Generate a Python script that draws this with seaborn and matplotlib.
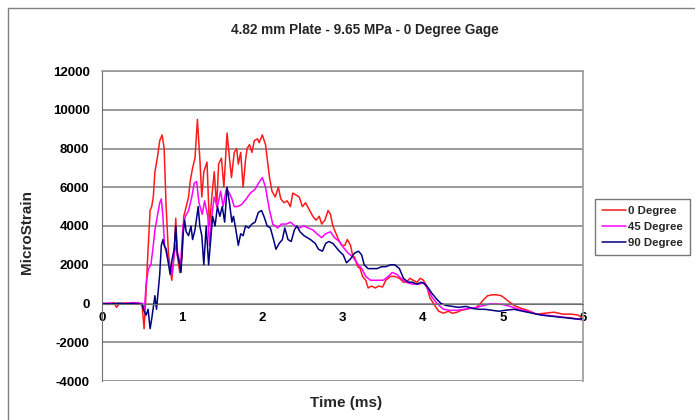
import numpy as np
import pandas as pd
import seaborn as sns
import matplotlib.pyplot as plt
from matplotlib.patches import Rectangle

# Datos (tiempo en ms, microdeformacion)
t_0 = [0, 0.08, 0.15, 0.18, 0.22, 0.3, 0.38, 0.45, 0.5, 0.525, 0.545, 0.565, 0.6, 0.62, 0.64, 0.66,
       0.69, 0.72, 0.75, 0.775, 0.8, 0.83, 0.87, 0.9, 0.92, 0.94, 0.97, 1.0, 1.02, 1.05, 1.08,
       1.1, 1.13, 1.16, 1.19, 1.22, 1.245, 1.27, 1.31, 1.34, 1.37, 1.4, 1.43, 1.455, 1.49,
       1.52, 1.56, 1.59, 1.615, 1.65, 1.68, 1.7, 1.73, 1.76, 1.79, 1.81, 1.84, 1.87, 1.9,
       1.94, 1.96, 2.0, 2.04, 2.06, 2.09, 2.12, 2.16, 2.2, 2.23, 2.27, 2.31, 2.35, 2.38,
       2.42, 2.46, 2.5, 2.54, 2.59, 2.63, 2.67, 2.71, 2.74, 2.78, 2.82, 2.85, 2.88, 2.91,
       2.95, 2.99, 3.03, 3.06, 3.1, 3.13, 3.15, 3.19, 3.22, 3.25, 3.29, 3.32, 3.36, 3.41,
       3.45, 3.5, 3.54, 3.6, 3.65, 3.71, 3.76, 3.8, 3.84, 3.88, 3.93, 3.97, 4.01, 4.05,
       4.09, 4.15, 4.2, 4.26, 4.32, 4.37, 4.43, 4.48, 4.54, 4.59, 4.65, 4.7, 4.76, 4.81,
       4.87, 4.92, 4.98, 5.03, 5.09, 5.14, 5.23, 5.31, 5.42, 5.53, 5.64, 5.75, 5.86, 5.94, 6.0]
v_0 = [0, -50, 50, -200, 0, 30, 0, 50, -100, -1300, 200, 2000, 4800, 5000, 5500, 6800,
       7500, 8400, 8700, 8000, 5000, 2500, 1200, 2500, 4400, 2500, 1600, 2500, 4500, 5000, 5500,
       6300, 7000, 7500, 9500, 7500, 5500, 6800, 7300, 4000, 5500, 6800, 5000, 7200, 7500,
       6000, 8800, 7500, 6500, 7800, 8000, 7200, 7800, 6000, 7400, 8000, 8200, 7800, 8400,
       8500, 8300, 8700, 8200, 7500, 6500, 5800, 5500, 6000, 5400, 5200, 5300, 5000, 5700,
       5600, 5500, 5000, 5200, 4800, 4500, 4300, 4500, 4100, 4300, 4800, 4600, 4000, 3700,
       3300, 3000, 3000, 3300, 3000, 2400, 2400, 1900, 1800, 1400, 1200, 800, 900, 800,
       900, 850, 1200, 1400, 1400, 1300, 1100, 1100, 1300, 1200, 1100, 1300, 1200, 900,
       300, -100, -400, -500, -400, -500, -450, -350, -300, -250, -250, -100, 200, 400,
       450, 450, 400, 250, 50, -100, -250, -350, -550, -500, -450, -550, -550, -600, -750]

t_45 = [0, 0.1, 0.2, 0.3, 0.4, 0.5, 0.53, 0.55, 0.58, 0.61, 0.64, 0.66, 0.69, 0.72, 0.74,
        0.76, 0.78, 0.81, 0.84, 0.87, 0.9, 0.92, 0.95, 0.98, 1.01, 1.04, 1.08, 1.12, 1.15,
        1.18, 1.21, 1.25, 1.28, 1.32, 1.34, 1.37, 1.4, 1.44, 1.48, 1.51, 1.55, 1.59, 1.62,
        1.65, 1.69, 1.74, 1.8, 1.85, 1.91, 1.95, 2.0, 2.04, 2.06, 2.09, 2.13, 2.19, 2.24,
        2.3, 2.35, 2.41, 2.46, 2.52, 2.57, 2.63, 2.68, 2.74, 2.79, 2.85, 2.9, 2.96, 3.01,
        3.07, 3.13, 3.18, 3.24, 3.29, 3.35, 3.43, 3.51, 3.57, 3.62, 3.68, 3.73, 3.79, 3.87,
        3.96, 4.01, 4.07, 4.12, 4.18, 4.26, 4.34, 4.43, 4.51, 4.59, 4.68, 4.76, 4.84, 4.92,
        5.0, 5.09, 5.2, 5.31, 5.42, 5.53, 5.64, 5.75, 5.86, 6.0]
v_45 = [0, 30, -50, 0, 50, 0, -300, 1000, 1800, 2000, 3000, 3800, 4500, 5200, 5400,
        4500, 3000, 2500, 2000, 1500, 2500, 3000, 2500, 2000, 4000, 4500, 4800, 5500, 6200,
        6300, 5200, 4600, 5300, 4500, 3000, 4500, 5500, 5000, 5800, 5000, 5900, 5700, 5400,
        5000, 5000, 5100, 5400, 5700, 5900, 6200, 6500, 6000, 5500, 4800, 4100, 3900, 4100,
        4100, 4200, 4000, 3900, 4000, 3900, 3800, 3600, 3400, 3600, 3700, 3400, 3200, 2900,
        2600, 2400, 2100, 1800, 1400, 1200, 1200, 1200, 1400, 1600, 1500, 1300, 1100, 1000,
        1000, 1100, 700, 300, 0, -300, -350, -350, -300, -250, -200, -100, -30, -30,
        -50, -150, -300, -400, -550, -600, -650, -700, -750, -850]

t_90 = [0, 0.1, 0.2, 0.3, 0.4, 0.5, 0.525, 0.55, 0.575, 0.6, 0.62, 0.64, 0.66, 0.68, 0.7,
        0.72, 0.74, 0.76, 0.775, 0.8, 0.83, 0.85, 0.87, 0.9, 0.92, 0.94, 0.96, 0.985, 1.01,
        1.03, 1.05, 1.08, 1.11, 1.13, 1.16, 1.2, 1.22, 1.245, 1.27, 1.3, 1.33, 1.36, 1.38,
        1.41, 1.44, 1.47, 1.5, 1.53, 1.56, 1.59, 1.62, 1.64, 1.67, 1.7, 1.73, 1.76, 1.79,
        1.83, 1.87, 1.91, 1.95, 1.99, 2.02, 2.06, 2.1, 2.14, 2.17, 2.21, 2.25, 2.28, 2.32,
        2.36, 2.4, 2.43, 2.47, 2.52, 2.56, 2.6, 2.66, 2.7, 2.75, 2.79, 2.83, 2.88, 2.92,
        2.96, 3.01, 3.05, 3.1, 3.15, 3.2, 3.24, 3.27, 3.32, 3.37, 3.43, 3.49, 3.54, 3.6,
        3.65, 3.71, 3.76, 3.82, 3.87, 3.93, 3.98, 4.03, 4.07, 4.12, 4.18, 4.23, 4.29, 4.37,
        4.45, 4.54, 4.62, 4.7, 4.78, 4.87, 4.95, 5.03, 5.14, 5.25, 5.37, 5.48, 5.59, 5.7,
        5.81, 5.92, 6.0]
v_90 = [0, -30, 20, -20, 0, -50, -400, -600, -300, -1300, -800, -200, 400, -300, 600,
        1500, 3000, 3300, 3000, 2800, 2000, 1500, 2200, 2800, 4000, 2500, 2200, 1600, 3500,
        4300, 3700, 3500, 4000, 3300, 3800, 5000, 4000, 3500, 2000, 4000, 2000, 3500, 4500,
        4000, 5000, 4500, 5000, 4200, 6000, 5200, 4200, 4500, 3800, 3000, 3600, 3500, 4000,
        3900, 4100, 4200, 4700, 4800, 4500, 4000, 3900, 3300, 2800, 3100, 3300, 3900, 3300,
        3200, 3800, 4000, 3700, 3500, 3400, 3300, 3100, 2800, 2700, 3100, 3200, 3100, 2900,
        2700, 2500, 2100, 2300, 2600, 2700, 2500, 2000, 1800, 1800, 1800, 1900, 1900, 2000,
        2000, 1800, 1300, 1100, 1100, 1000, 1100, 1000, 800, 500, 200, 0, -100, -150,
        -200, -150, -250, -300, -300, -350, -400, -350, -300, -400, -500, -600, -650, -700,
        -750, -800, -800]

series = ["0 Degree", "45 Degree", "90 Degree"]
colores = {"0 Degree": "#ff1a1a", "45 Degree": "#ff00ff", "90 Degree": "#000080"}

data = pd.concat([
    pd.DataFrame({"t": t_0, "v": v_0, "serie": series[0]}),
    pd.DataFrame({"t": t_45, "v": v_45, "serie": series[1]}),
    pd.DataFrame({"t": t_90, "v": v_90, "serie": series[2]}),
])

sns.set_style("white")
plt.rcParams["font.family"] = ["Liberation Sans", "DejaVu Sans"]
plt.rcParams["axes.unicode_minus"] = False

fig = plt.figure(figsize=(6.95, 4.2), dpi=100)
ax = fig.add_axes([102 / 695, 1 - 381 / 420, 481 / 695, 310 / 420])

sns.lineplot(data=data, x="t", y="v", hue="serie", hue_order=series, palette=colores,
             estimator=None, sort=False, linewidth=1.1, ax=ax)

ax.set_xlim(0, 6)
ax.set_ylim(-4000, 12000)
ax.set_yticks(np.arange(-4000, 12001, 2000))
ax.set_xticks(range(7))
ax.yaxis.grid(True, color="#9a9a9a", linewidth=1.4)
ax.set_axisbelow(True)

ax.spines["bottom"].set_position(("data", 0))
for s in ["left", "bottom"]:
    ax.spines[s].set_color("#6e6e6e")
for s in ["top", "right"]:
    ax.spines[s].set_color("#9a9a9a")
    ax.spines[s].set_linewidth(1.2)

ax.tick_params(axis="x", direction="in", length=4, pad=6, colors="#6e6e6e", labelcolor="black")
ax.tick_params(axis="y", direction="out", length=4, pad=5, colors="#6e6e6e", labelcolor="black")
for lbl in ax.get_xticklabels() + ax.get_yticklabels():
    lbl.set_fontsize(9.5)
    lbl.set_fontweight("bold")

ax.set_xlabel("Time (ms)", fontsize=11, fontweight="bold", va="center")
ax.set_ylabel("MicroStrain", fontsize=11, fontweight="bold", va="center")
ax.xaxis.set_label_coords((346 - 102) / 481, (381 - 403) / 310)
ax.yaxis.set_label_coords((27 - 102) / 481, (381 - 232) / 310)

fig.text(365 / 695, 1 - 30 / 420, "4.82 mm Plate - 9.65 MPa - 0 Degree Gage",
         ha="center", va="center", fontsize=9.8, fontweight="bold")

handles, labels = ax.get_legend_handles_labels()
ax.legend(handles, labels, loc="upper left", bbox_to_anchor=(595 / 695, 1 - 199 / 420),
          bbox_transform=fig.transFigure, borderaxespad=0, frameon=True, fancybox=False,
          edgecolor="#555555", handlelength=2.1, handletextpad=0.2, labelspacing=0.55,
          borderpad=0.6, prop={"size": 8.2, "weight": "bold"})

# Marco del grafico
fig.patches.append(Rectangle((8 / 695, -0.1), 1.2, 1.1 - 8 / 420, transform=fig.transFigure,
                             fill=False, edgecolor="#808080", linewidth=1))

fig.savefig("out.png", dpi=100)
